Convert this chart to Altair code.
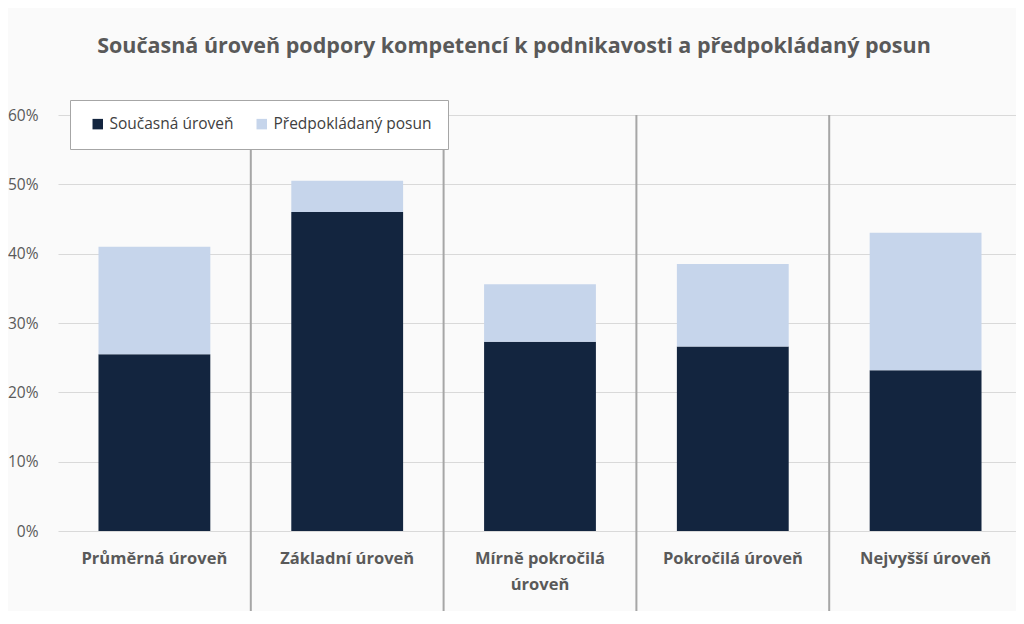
import altair as alt
import pandas as pd

categories = ["Průměrná úroveň", "Základní úroveň", "Mírně pokročilá úroveň",
              "Pokročilá úroveň", "Nejvyšší úroveň"]
current = [0.255, 0.460, 0.273, 0.266, 0.232]
shift = [0.155, 0.045, 0.083, 0.119, 0.198]
series = ["Současná úroveň", "Předpokládaný posun"]
colors = ["#13253f", "#c6d5eb"]

rows = []
for c, a, b in zip(categories, current, shift):
    rows.append({"cat": c, "series": series[0], "value": a, "ord": 0})
    rows.append({"cat": c, "series": series[1], "value": b, "ord": 1})
df = pd.DataFrame(rows)
seps = pd.DataFrame({"cat": categories[1:]})

FONT = "Open Sans"
GREY = "#595959"

xscale = alt.Scale(domain=categories, paddingInner=0, paddingOuter=0)

bars = alt.Chart(df).mark_bar(width=alt.RelativeBandSize(0.58)).encode(
    x=alt.X("cat:N", sort=categories, scale=xscale, title=None,
            axis=alt.Axis(labelAngle=0, ticks=False, domain=False,
                          labelFont=FONT, labelFontSize=16.5, labelFontWeight="bold",
                          labelColor=GREY, labelPadding=19, labelLineHeight=26,
                          labelBaseline="top", labelAlign="center",
                          labelExpr="datum.label == 'Mírně pokročilá úroveň' ? ['Mírně pokročilá', 'úroveň'] : datum.label")),
    y=alt.Y("value:Q", stack="zero", title=None,
            scale=alt.Scale(domain=[0, 0.6]),
            axis=alt.Axis(format=".0%", values=[0, 0.1, 0.2, 0.3, 0.4, 0.5, 0.6],
                          ticks=False, domain=False, labelFont=FONT, labelFontSize=15.5,
                          labelColor=GREY, labelPadding=20, gridColor="#d9d9d9")),
    color=alt.Color("series:N", scale=alt.Scale(domain=series, range=colors),
                    legend=alt.Legend(title=None, orient="none", legendX=12, legendY=-15,
                                      direction="horizontal", fillColor="white",
                                      strokeColor="#a6a6a6", padding=16,
                                      symbolType="square", symbolSize=110,
                                      symbolStrokeWidth=0, symbolOffset=4,
                                      labelFont=FONT, labelFontSize=15.5, labelColor="#404040",
                                      columnPadding=16, labelLimit=300)),
    order=alt.Order("ord:Q"),
)

rules = alt.Chart(seps).mark_rule(color="#a6a6a6", strokeWidth=2).encode(
    x=alt.X("cat:N", sort=categories, scale=xscale, bandPosition=0),
    y=alt.value(0),
    y2=alt.value(501),
)

chart = alt.layer(rules, bars).properties(
    width=964, height=416,
    autosize=alt.AutoSizeParams(type="none"),
    padding={"left": 50, "top": 107, "right": -6, "bottom": 80},
    background="#fafafa",
    title=alt.TitleParams(
        "Současná úroveň podpory kompetencí k podnikavosti a předpokládaný posun",
        font=FONT, fontSize=21.5, fontWeight="bold", color=GREY,
        anchor="middle", dx=-26, offset=25, baseline="alphabetic"),
).configure_view(stroke=None)

chart.save("out.html", embed_options={"renderer": "svg", "actions": False})
